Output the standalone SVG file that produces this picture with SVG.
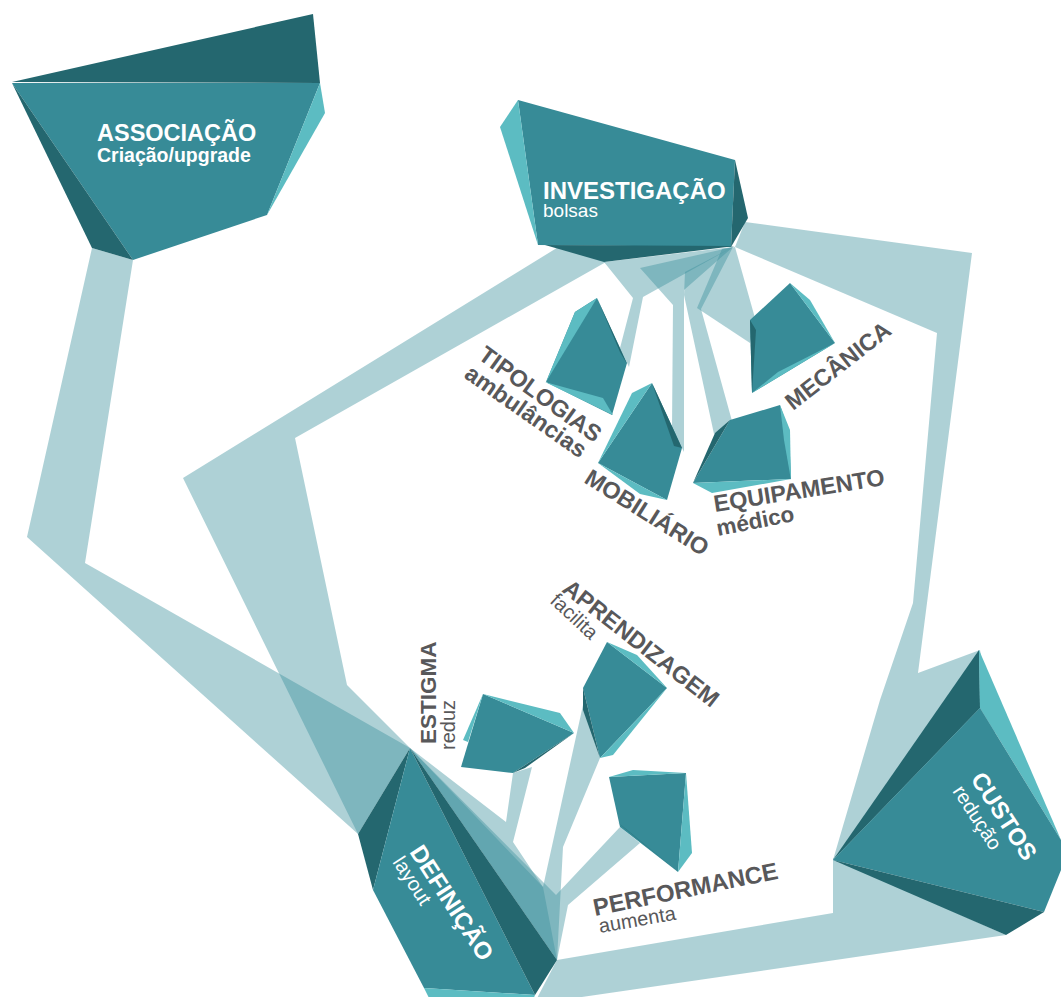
<svg xmlns="http://www.w3.org/2000/svg" width="1061" height="997" viewBox="0 0 1061 997">
  <style>
    .band{fill:#3b8f9c;fill-opacity:0.41}
    .m{fill:#378b97}
    .d{fill:#24676f}
    .l{fill:#5cbcc2}
    .w{font-family:"Liberation Sans",Arial,Helvetica,sans-serif;fill:#ffffff}
    .wb{font-weight:bold;font-size:24px}
    .ws{font-size:20px}
    .g{font-family:"Liberation Sans",Arial,Helvetica,sans-serif;fill:#58585a}
    .gb{font-weight:bold;font-size:23.5px}
    .gs{font-size:20px}
  </style>

  <rect width="1061" height="997" fill="#ffffff"/>

  <!-- translucent ribbons linking the facets -->
  <g id="connectors">
    <polygon class="band" points="92,248 133,260 85,563 410,748 358,834 27,537"/>
    <polygon class="band" points="560,246 606,262 295,438 347,685 410,748 358,834 183,478"/>
    <polygon class="band" points="745,222 972,253 918,673 980,650 1000,760 833,860 880,700 913,603 937,333 735,247"/>
    <polygon class="band" points="557,960 833,913 833,858 1006,935 534,1004"/>
    <!-- fan under INVESTIGAÇÃO -->
    <polygon class="band" points="604,262 733,247 643,297 629,367 620,348 633,298"/>
    <polygon class="band" points="640,268 733,247 684,290 684,452 672,428 673,305"/>
    <polygon class="band" points="685,272 733,247 701,309 732,421 714,434 684,295"/>
    <polygon class="band" points="722,249 735,247 755,318 750,343 697,308"/>
    <!-- fan into DEFINIÇÃO -->
    <polygon class="band" points="513,773 506,822 410,748 557,960 543,887 513,842 532,767"/>
    <polygon class="band" points="583,705 543,887 410,748 557,960 563,847 600,758"/>
    <polygon class="band" points="620,827 556,895 410,748 557,960 568,905 640,843"/>
  </g>

  <g id="associacao">
    <polygon class="m" points="12,83 320,83 267,215 133,260"/>
    <polygon class="d" points="12,82 313,14 320,83"/>
    <polygon class="d" points="12,83 92,248 133,260"/>
    <polygon class="l" points="320,83 325,113 267,215"/>
    <text class="w wb" x="97" y="141" style="font-size:23.5px">ASSOCIAÇÃO</text>
    <text class="w" x="97" y="162" style="font-size:19.5px;font-weight:bold">Criação/upgrade</text>
  </g>

  <g id="investigacao">
    <polygon class="m" points="518,100 735,160 731,247 538,245"/>
    <polygon class="l" points="518,100 500,127 538,245"/>
    <polygon class="d" points="735,160 748,218 731,247"/>
    <polygon class="d" points="545,245 735,246 604,262"/>
    <text class="w wb" x="543" y="199">INVESTIGAÇÃO</text>
    <text class="w" x="543" y="217" style="font-size:19px">bolsas</text>
  </g>

  <g id="tipologias">
    <polygon class="m" points="597,298 627,363 612,415 546,382 575,312"/>
    <polygon class="l" points="597,298 575,312 546,382"/>
    <polygon class="l" points="545,382 613,415 603,398"/>
    <polygon class="d" points="597,298 627,364 620,352"/>
    <text class="g gb" transform="translate(477,358) rotate(36)">TIPOLOGIAS</text>
    <text class="g gb" transform="translate(463,377) rotate(35)">ambulâncias</text>
  </g>

  <g id="mobiliario">
    <polygon class="m" points="652,383 682,448 667,500 598,463"/>
    <polygon class="l" points="652,383 632,393 598,463"/>
    <polygon class="l" points="598,463 667,500 640,494"/>
    <polygon class="d" points="652,383 682,448 674,446"/>
    <text class="g gb" transform="translate(583,482) rotate(32)">MOBILIÁRIO</text>
  </g>

  <g id="mecanica">
    <polygon class="m" points="790,283 835,343 752,393 750,320"/>
    <polygon class="l" points="790,283 810,300 835,343"/>
    <polygon class="l" points="835,343 752,393 778,372"/>
    <polygon class="d" points="750,320 752,393 756,330"/>
    <text class="g gb" transform="translate(793,411) rotate(-38)">MECÂNICA</text>
  </g>

  <g id="equipamento">
    <polygon class="m" points="730,420 780,405 789,432 791,479 693,483"/>
    <polygon class="l" points="780,405 790,430 791,480 784,440"/>
    <polygon class="l" points="693,483 791,479 712,493"/>
    <polygon class="d" points="730,420 715,433 693,483"/>
    <text class="g gb" transform="translate(715,512) rotate(-9)">EQUIPAMENTO</text>
    <text class="g gb" transform="translate(718,536) rotate(-11)" style="font-size:22.5px">médico</text>
  </g>

  <g id="estigma">
    <polygon class="m" points="483,694 574,733 513,773 461,767"/>
    <polygon class="l" points="483,694 560,713 574,733"/>
    <polygon class="l" points="483,694 463,740 468,742"/>
    <polygon class="d" points="574,733 513,773 525,768"/>
    <text class="g gb" transform="translate(436,744) rotate(-90)" style="font-size:22.5px">ESTIGMA</text>
    <text class="g gs" transform="translate(455,750) rotate(-90)">reduz</text>
  </g>

  <g id="aprendizagem">
    <polygon class="m" points="607,642 667,688 600,758 583,688"/>
    <polygon class="l" points="607,642 637,655 667,688"/>
    <polygon class="l" points="667,688 613,755 600,758"/>
    <polygon class="d" points="583,688 583,710 600,758"/>
    <text class="g gb" transform="translate(561,591) rotate(38)">APRENDIZAGEM</text>
    <text class="g gs" transform="translate(549,602) rotate(43)">facilita</text>
  </g>

  <g id="performance">
    <polygon class="m" points="609,777 686,773 678,872 620,827"/>
    <polygon class="l" points="609,777 633,770 686,773"/>
    <polygon class="l" points="686,773 692,853 678,872"/>
    <polygon class="d" points="617,822 678,872 626,829"/>
    <text class="g gb" transform="translate(595,916) rotate(-11.5)" style="font-size:24px">PERFORMANCE</text>
    <text class="g gs" transform="translate(600,933) rotate(-10)">aumenta</text>
  </g>

  <g id="definicao">
    <polygon class="d" points="410,748 358,834 373,890"/>
    <polygon class="m" points="410,748 373,890 424,988 535,995"/>
    <polygon class="d" points="410,748 557,960 535,995"/>
    <polygon class="l" points="424,988 535,995 533,1000 430,1000"/>
    <text class="w wb" transform="translate(409,852) rotate(57)">DEFINIÇÃO</text>
    <text class="w ws" transform="translate(392,862) rotate(57)">layout</text>
  </g>

  <g id="custos">
    <polygon class="d" points="979,650 833,860 980,708"/>
    <polygon class="l" points="979,650 1061,840 980,708"/>
    <polygon class="m" points="980,708 1061,840 1061,870 1044,912 833,860"/>
    <polygon class="d" points="833,860 1044,912 1006,935"/>
    <text class="w wb" transform="translate(970,779) rotate(57)">CUSTOS</text>
    <text class="w ws" transform="translate(952,791) rotate(57)">redução</text>
  </g>
</svg>
